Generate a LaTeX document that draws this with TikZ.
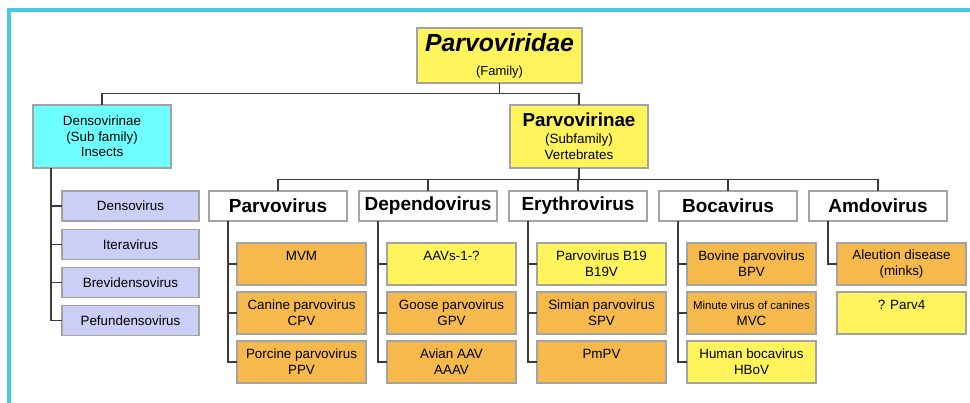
\documentclass[tikz,border=0pt]{standalone}
\usepackage{fontspec}
\setmainfont{Liberation Sans}
\definecolor{famyellow}{HTML}{FFF45C}
\definecolor{virorange}{HTML}{F5B94C}
\definecolor{insectcyan}{HTML}{6EFFFF}
\definecolor{genuslilac}{HTML}{CCCFF5}
\definecolor{boxgray}{HTML}{A3A3A3}
\definecolor{linegray}{HTML}{3A3A3A}
\definecolor{framecyan}{HTML}{48C9E2}
\tikzset{
  taxbox/.style={draw=boxgray, line width=1.2pt, inner sep=0pt, outer sep=0pt, align=center},
  genusbox/.style={taxbox, fill=white, minimum width=138pt, minimum height=30pt,
    font=\fontsize{19}{22}\selectfont\bfseries},
  virbox/.style={taxbox, minimum width=129pt, minimum height=42pt,
    font=\fontsize{13.4}{16}\selectfont},
  insectbox/.style={taxbox, fill=genuslilac, minimum width=137pt, minimum height=30pt,
    font=\fontsize{13.4}{16}\selectfont},
  link/.style={draw=linegray, line width=1.2pt},
}
\begin{document}
\begin{tikzpicture}[x=1pt,y=-1pt]
        \useasboundingbox (0,0) rectangle (970,403);
        % Rahmen
        \draw[framecyan, line width=3.6pt] (970,10.3) -- (9,10.3) -- (9,403);

        % Familie
        \node[taxbox, fill=famyellow, minimum width=165pt, minimum height=55pt,
              font=\fontsize{13}{24}\selectfont] (fam) at (499.5,55.5)
            {{\fontsize{24.8}{24}\selectfont\bfseries\itshape Parvoviridae}\\(Family)};

        % Unterfamilien
        \node[taxbox, fill=insectcyan, minimum width=138pt, minimum height=63pt,
              font=\fontsize{13.4}{15.5}\selectfont] (denso) at (102,136.5)
            {Densovirinae\\(Sub family)\\Insects};
        \node[taxbox, fill=famyellow, minimum width=138pt, minimum height=63pt,
              font=\fontsize{13.4}{16.5}\selectfont] (sub) at (579,136.5)
            {{\fontsize{18.8}{19}\selectfont\bfseries Parvovirinae}\\(Subfamily)\\Vertebrates};
        \draw[link] (fam.south) -- ++(0,10.5) -| (denso.north);
        \draw[link] (fam.south) -- ++(0,10.5) -| (sub.north);

        % Densovirinae
        \foreach \k/\val in {1/Densovirus, 2/Iteravirus, 3/Brevidensovirus, 4/Pefundensovirus} {
            \node[insectbox] (d\k) at (130.5, 206+38.3*\k-38.3) {\val};
            \draw[link] ([xshift=18pt]denso.south west) |- (d\k.west);
        }

        % Gattungen
        \foreach \g/\gx/\val in {1/278/Parvovirus, 2/428/Dependovirus, 3/578/Erythrovirus,
                                  4/728/Bocavirus, 5/878/Amdovirus} {
            \node[genusbox] (g\g) at (\gx,206) {\val};
            \draw[link] (sub.south) -- ++(0,11.5) -| (g\g.north);
        }

        % Viren
        \foreach \g/\k/\val/\col in {
            1/1/{MVM\\~}/virorange,
            1/2/{Canine parvovirus\\CPV}/virorange,
            1/3/{Porcine parvovirus\\PPV}/virorange,
            2/1/{AAVs-1-?\\~}/famyellow,
            2/2/{Goose parvovirus\\GPV}/virorange,
            2/3/{Avian AAV\\AAAV}/virorange,
            3/1/{Parvovirus B19\\B19V}/famyellow,
            3/2/{Simian parvovirus\\SPV}/virorange,
            3/3/{PmPV\\~}/virorange,
            4/1/{Bovine parvovirus\\BPV}/virorange,
            4/2/{{\fontsize{11.4}{16}\selectfont Minute virus of canines}\\MVC}/virorange,
            4/3/{Human bocavirus\\HBoV}/famyellow,
            5/1/{Aleution disease\\(minks)}/virorange} {
            \node[virbox, fill=\col] (v\g-\k) at ([xshift=92.5pt, yshift=-43pt-49*\k+49]g\g.south west) {\val};
            \draw[link] ([xshift=19pt]g\g.south west) |- (v\g-\k.west);
        }
        \node[virbox, fill=famyellow] (v5-2) at ([xshift=92.5pt, yshift=-92pt]g5.south west) {? Parv4\\~};
\end{tikzpicture}
\end{document}
